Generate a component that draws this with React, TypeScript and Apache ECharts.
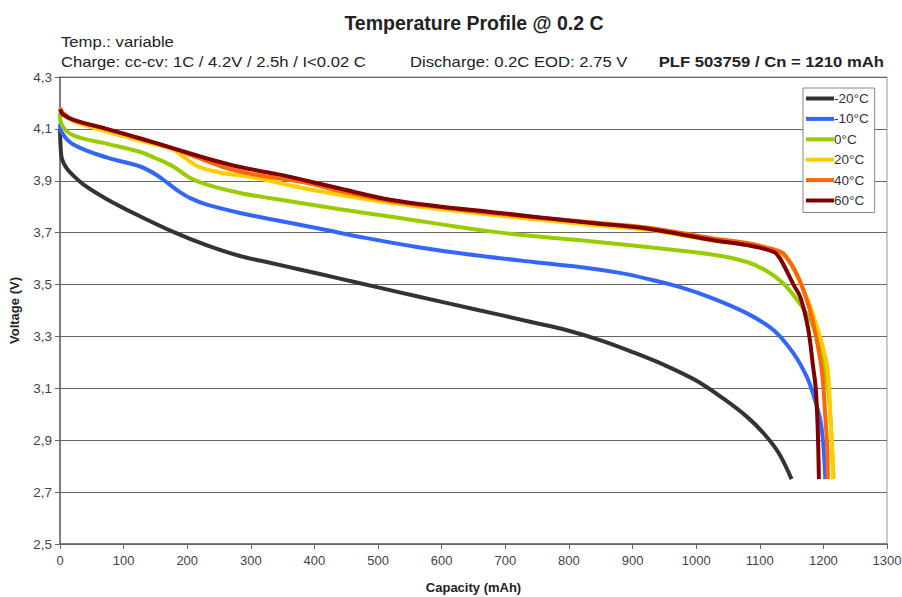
import React, { useEffect, useRef } from "react";
import * as echarts from "echarts";

const seriesNames = ["-20°C", "-10°C", "0°C", "20°C", "40°C", "60°C"];
const seriesColors = ["#333333", "#3366FF", "#99CC00", "#FFCC00", "#FF6600", "#800000"];

const tm20: number[][] = [[0,4.10],[1,4.03],[3,3.985],[10,3.95],[21,3.92],[40,3.88],[73,3.83],[120,3.77],[178,3.703],[230,3.652],[283,3.61],[330,3.584],[377,3.558],[440,3.523],[500,3.489],[561,3.455],[650,3.406],[744,3.354],[797,3.324],[850,3.285],[900,3.24],[950,3.19],[1000,3.13],[1043,3.06],[1080,2.99],[1106,2.927],[1130,2.85],[1150,2.75]];
const tm10: number[][] = [[0,4.12],[2,4.09],[21,4.04],[73,3.99],[126,3.955],[150,3.925],[170,3.89],[185,3.862],[204,3.834],[231,3.808],[283,3.776],[336,3.75],[409,3.715],[480,3.68],[561,3.645],[640,3.617],[744,3.587],[823,3.566],[880,3.545],[922,3.523],[975,3.49],[1027,3.446],[1080,3.389],[1122,3.324],[1153,3.235],[1174,3.144],[1185,3.07],[1195,2.98],[1200,2.88],[1203,2.75]];
const t0: number[][] = [[0,4.16],[2,4.12],[21,4.075],[73,4.043],[126,4.011],[152,3.985],[178,3.955],[204,3.912],[231,3.885],[283,3.853],[336,3.831],[440,3.79],[519,3.762],[600,3.732],[676,3.705],[760,3.683],[833,3.667],[922,3.645],[1027,3.615],[1080,3.587],[1111,3.552],[1137,3.504],[1159,3.44],[1180,3.36],[1194,3.26],[1206,3.12],[1211,2.99],[1214,2.85],[1216,2.75]];
const t20: number[][] = [[0,4.18],[5,4.16],[21,4.13],[73,4.09],[126,4.055],[178,4.02],[190,4.0],[204,3.975],[217,3.955],[254,3.93],[300,3.915],[385,3.87],[440,3.846],[519,3.815],[600,3.79],[676,3.77],[833,3.73],[922,3.712],[1027,3.67],[1080,3.652],[1122,3.63],[1143,3.60],[1169,3.478],[1190,3.337],[1206,3.183],[1211,2.99],[1214,2.85],[1215,2.75]];
const t40: number[][] = [[0,4.18],[5,4.16],[21,4.135],[73,4.10],[126,4.063],[178,4.025],[200,4.005],[254,3.955],[300,3.927],[385,3.893],[440,3.86],[519,3.822],[600,3.797],[676,3.776],[833,3.74],[922,3.72],[1027,3.678],[1080,3.66],[1122,3.635],[1137,3.62],[1159,3.536],[1179,3.40],[1190,3.28],[1198,3.16],[1203,2.99],[1206,2.87],[1207,2.75]];
const t60: number[][] = [[0,4.175],[5,4.155],[21,4.135],[73,4.10],[126,4.063],[178,4.025],[231,3.986],[283,3.953],[336,3.928],[362,3.915],[440,3.87],[519,3.827],[600,3.80],[676,3.78],[833,3.738],[922,3.716],[1027,3.671],[1080,3.652],[1122,3.626],[1132,3.60],[1153,3.50],[1164,3.45],[1176,3.33],[1184,3.18],[1188,3.10],[1191,2.95],[1193,2.75]];

const seriesData = [tm20, tm10, t0, t20, t40, t60];

const titleText = "Temperature Profile @ 0.2 C";
const sub1 = "Temp.: variable";
const sub2 = "Charge: cc-cv: 1C / 4.2V / 2.5h / I<0.02 C";
const sub3 = "Discharge: 0.2C EOD: 2.75 V";
const sub4 = "PLF 503759 / Cn = 1210 mAh";
const xTitle = "Capacity (mAh)";
const yTitle = "Voltage (V)";

const FONT = "'Liberation Sans', Arial, sans-serif";
const SX = 1.19;

export default function App() {
  const ref = useRef<HTMLDivElement>(null);
  useEffect(() => {
    if (!ref.current) return;
    const chart = echarts.init(ref.current, null, { renderer: "svg" });
    chart.setOption({
      animation: false,
      backgroundColor: "#ffffff",
      textStyle: { fontFamily: FONT },
      title: {
        text: titleText,
        left: 469,
        textAlign: "center",
        top: 8,
        textStyle: { fontFamily: FONT, fontSize: 19.5, fontWeight: "bold", color: "#222" },
      },
      graphic: [
        { type: "text", x: 61, y: 35, scaleX: SX, style: { text: sub1, font: `14px ${FONT}`, fill: "#222" } },
        { type: "text", x: 61, y: 55, scaleX: SX, style: { text: sub2, font: `14px ${FONT}`, fill: "#222" } },
        { type: "text", x: 410, y: 55, scaleX: SX, style: { text: sub3, font: `14px ${FONT}`, fill: "#222" } },
        { type: "text", x: 884, y: 55, scaleX: SX, style: { text: sub4, font: `bold 14px ${FONT}`, fill: "#222", align: "right" } },
      ],
      legend: {
        left: 803,
        top: 88,
        orient: "vertical",
        data: seriesNames.map((n) => ({ name: n, icon: "rect" })),
        itemWidth: 28,
        itemHeight: 4,
        itemGap: 6.4,
        padding: [3.5, 6, 5, 3],
        borderColor: "#888",
        borderWidth: 1,
        backgroundColor: "#fff",
        textStyle: { fontFamily: FONT, fontSize: 13.5, color: "#333", padding: [0, 0, 0, -5] },
      },
      grid: {
        left: 60,
        right: 15,
        top: 77,
        bottom: 53,
        show: true,
        borderColor: "#999",
        borderWidth: 1,
        containLabel: false,
        outerBoundsMode: "none",
      },
      xAxis: {
        type: "value",
        min: 0,
        max: 1300,
        interval: 100,
        name: xTitle,
        nameLocation: "middle",
        nameGap: 37,
        nameTextStyle: { fontFamily: FONT, fontSize: 13, fontWeight: "bold", color: "#222" },
        axisLine: { show: true, lineStyle: { color: "#666", width: 1.5 } },
        axisTick: { show: true, length: 5, lineStyle: { color: "#666" } },
        axisLabel: { fontFamily: FONT, fontSize: 13, color: "#444", margin: 10, formatter: (v: number) => String(v) },
        splitLine: { show: false },
      },
      yAxis: {
        type: "value",
        min: 2.5,
        max: 4.3,
        interval: 0.2,
        name: yTitle,
        nameLocation: "middle",
        nameGap: 39,
        nameRotate: 90,
        nameTextStyle: { fontFamily: FONT, fontSize: 13, fontWeight: "bold", color: "#222" },
        axisLine: { show: true, lineStyle: { color: "#666", width: 1.5 } },
        axisTick: { show: true, length: 5, lineStyle: { color: "#666" } },
        axisLabel: {
          fontFamily: FONT,
          fontSize: 13.5,
          color: "#444",
          margin: 8,
          formatter: (v: number) => v.toFixed(1).replace(".", ","),
        },
        splitLine: { show: true, lineStyle: { color: "#666", width: 1 } },
      },
      series: seriesNames.map((name, i) => ({
        name,
        type: "line",
        data: seriesData[i],
        symbol: "none",
        smooth: 0.35,
        lineStyle: { color: seriesColors[i], width: 4 },
        itemStyle: { color: seriesColors[i] },
        z: 2 + i,
      })),
    });
    return () => chart.dispose();
  }, []);
  return (
    <div style={{ position: "fixed", left: 0, top: 0, width: 902, height: 597, background: "#fff" }}>
      <div ref={ref} style={{ width: 902, height: 597 }} />
    </div>
  );
}
